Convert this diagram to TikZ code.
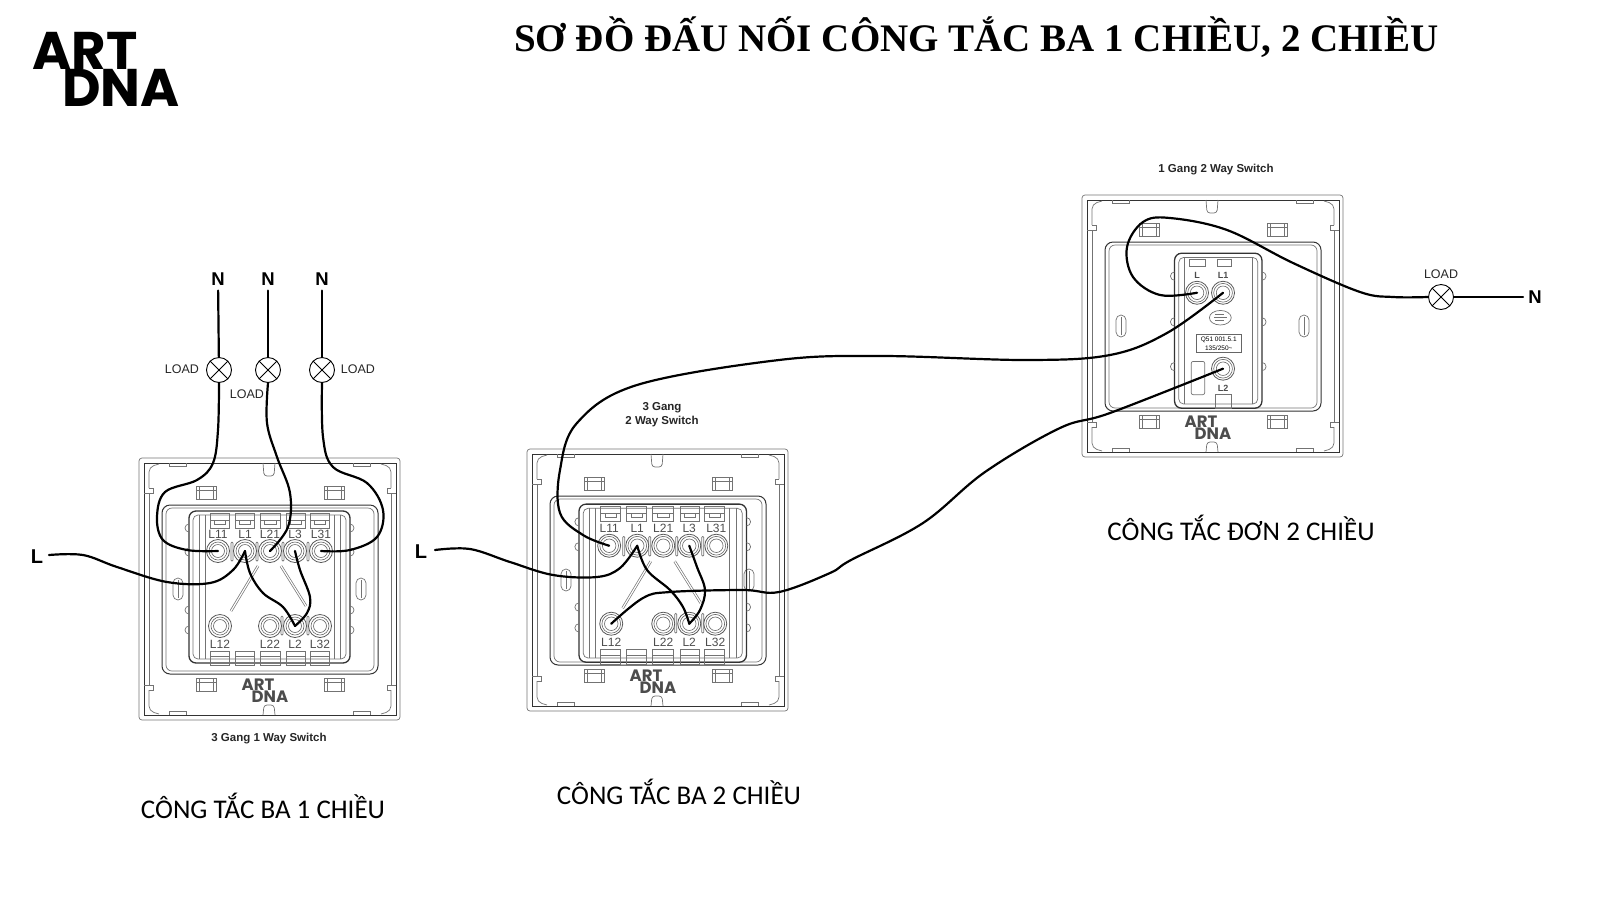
\documentclass[tikz,border=0pt]{standalone}
\usepackage{fontspec}
\setmainfont{Liberation Sans}
\newfontfamily\titlefont{Liberation Serif}
\newfontfamily\capfont{Carlito}
\newfontfamily\logofont{Poppins}
\tikzset{
    plateline/.style={draw=black!55,line width=.7pt,fill=none},
    platedark/.style={draw=black!80,line width=1pt,fill=none},
    wire/.style={draw=black,line width=2.2pt,line cap=round,line join=round},
    terminal/.style={circle,draw=black!65,line width=.8pt,minimum size=23pt,inner sep=0pt,fill=white},
    ringline/.style={draw=black!60,line width=.6pt},
    portname/.style={font=\fontsize{12}{12}\selectfont,text=black!70,inner sep=0pt},
    lamp/.style={circle,draw=black,line width=.9pt,minimum size=25pt,inner sep=0pt,fill=white,
        path picture={\draw[line width=.9pt] (path picture bounding box.north west) -- (path picture bounding box.south east)
            (path picture bounding box.north east) -- (path picture bounding box.south west);}},
    phase/.style={font=\bfseries\fontsize{18.5}{18.5}\selectfont,inner sep=5pt},
    loadname/.style={font=\fontsize{12.5}{12.5}\selectfont,text=black!85,inner sep=0pt},
    typename/.style={font=\bfseries\fontsize{11.5}{14}\selectfont,text=black!85,inner sep=0pt,align=center},
    caption/.style={font=\capfont\fontsize{27}{27}\selectfont,inner sep=0pt},
    biglogo/.style={font=\logofont\bfseries\fontsize{53}{53}\selectfont,inner sep=0pt},
    smalllogo/.style={font=\logofont\bfseries\fontsize{16.5}{16.5}\selectfont,text=black!70,inner sep=0pt},
    faceplate/.pic={
        \draw[plateline,rounded corners=3pt] (0,0) rectangle (261,262);
        \draw[platedark] (5,5) rectangle (257,257);
        \draw[plateline,rounded corners=5pt] (10,30) -- (10,9) -- (20,6) (242,6) -- (252,9) -- (252,30);
        \draw[plateline,rounded corners=5pt] (10,232) -- (10,253) -- (20,256) (242,256) -- (252,253) -- (252,232);
        \draw[plateline] (5,35) -- (14,35) -- (14,30) -- (10,30) (257,35) -- (248,35) -- (248,30) -- (252,30);
        \draw[plateline] (5,227) -- (14,227) -- (14,232) -- (10,232) (257,227) -- (248,227) -- (248,232) -- (252,232);
        \draw[plateline] (10,35) -- (10,227) (252,35) -- (252,227);
        \foreach \xa in {30,214} {
            \draw[plateline] (\xa,5) -- (\xa,8) -- (\xa+17,8) -- (\xa+17,5);
            \draw[plateline] (\xa,257) -- (\xa,253) -- (\xa+17,253) -- (\xa+17,257);
        }
        \draw[plateline,rounded corners=3pt] (124,5) -- (125,18) -- (135,18) -- (136,5);
        \draw[plateline,rounded corners=3pt] (124,257) -- (125,247) -- (135,247) -- (136,257);
        \foreach \xa in {57,185} {
            \foreach \ya in {28,220} {
                \draw[plateline] (\xa,\ya) rectangle (\xa+20,\ya+13);
                \draw[plateline] (\xa,\ya+4) -- (\xa+20,\ya+4) (\xa+3,\ya) -- (\xa+3,\ya+13) (\xa+17,\ya) -- (\xa+17,\ya+13);
            }
        }
        \draw[platedark,rounded corners=8pt] (23,47) rectangle (239,216);
        \draw[plateline,rounded corners=6pt] (27,50) rectangle (235,213);
        \draw[plateline,rounded corners=5pt] (34,120) rectangle (44,142);
        \draw[plateline,rounded corners=5pt] (217,120) rectangle (227,142);
        \draw[plateline] (39,122) -- (39,140) (222,122) -- (222,140);
        \node[smalllogo] (-art) at (119,227) {ART};
        \node[smalllogo] (-dna) at (131,239) {DNA};
    },
    threegang/.pic={
        \pic {faceplate};
        \draw[platedark,line width=1.3pt,rounded corners=7pt] (50,53) rectangle (211,205);
        \draw[plateline,rounded corners=5pt] (54,57) rectangle (207,201);
        \draw[plateline] (60,57) -- (60,201) (66,57) -- (66,201) (195,57) -- (195,201) (201,57) -- (201,201);
        \foreach \xa/\wa in {71/19,96/19,121/20,147/19,171/19} {
            \draw[plateline] (\xa,55) rectangle (\xa+\wa,70);
            \draw[plateline] (\xa,62) -- (\xa+\wa,62) (\xa+4,62) -- (\xa+4,66) -- (\xa+\wa-4,66) -- (\xa+\wa-4,62);
            \draw[plateline] (\xa,193) rectangle (\xa+\wa,207);
            \draw[plateline] (\xa,198) -- (\xa+\wa,198);
        }
        \foreach \ya in {78,102,160,180} {
            \draw[plateline] (50,\ya-4) arc[start angle=90,end angle=270,radius=4];
            \draw[plateline] (211,\ya-4) arc[start angle=90,end angle=-90,radius=4];
        }
        \foreach \xa in {93,118,144,169} {
            \draw[plateline,rounded corners=1pt] (\xa-1,84) rectangle (\xa+1,103);
        }
        \foreach \xa in {143,169} {
            \draw[plateline,rounded corners=1pt] (\xa-1,158) rectangle (\xa+1,177);
        }
        \foreach \n/\xa in {L11/79,L1/106,L21/131,L3/156,L31/182} {
            \node[terminal] (-\n) at (\xa,93) {};
            \draw[ringline] (-\n.center) circle (9) circle (6.5);
            \node[portname] (-\n-name) at (\xa,76) {\n};
        }
        \foreach \n/\xa in {L12/81,L22/131,L2/156,L32/181} {
            \node[terminal] (-\n) at (\xa,168) {};
            \draw[ringline] (-\n.center) circle (9) circle (6.5);
            \node[portname] (-\n-name) at (\xa,186) {\n};
        }
        \draw[plateline,double=white,double distance=1.2pt] (92,153) -- (119,108);
        \draw[plateline,double=white,double distance=1.2pt] (142,108) -- (167,148);
    },
    onegang/.pic={
        \pic {faceplate};
        \draw[platedark,line width=1.3pt,rounded corners=7pt] (89,56) rectangle (173,205);
        \draw[plateline,rounded corners=5pt] (93,60) rectangle (169,201);
        \draw[plateline] (98,60) -- (98,201) (164,60) -- (164,201);
        \draw[plateline] (103,62) rectangle (119,69) (130,62) rectangle (144,69);
        \draw[plateline] (128,192) rectangle (144,205);
        \draw[plateline,rounded corners=2pt] (105,160) rectangle (118,192);
        \foreach \ya in {86,130,173} {
            \draw[plateline] (89,\ya-4) arc[start angle=90,end angle=270,radius=4];
            \draw[plateline] (173,\ya-4) arc[start angle=90,end angle=-90,radius=4];
        }
        \draw[plateline] (133,118) ellipse (10.5 and 7);
        \draw[plateline] (128,115) -- (137,115) (127,118) -- (139,118) (128,121) -- (137,121);
        \node[draw=black!60,line width=.6pt,minimum width=45pt,minimum height=18pt,inner sep=0pt,align=center,
            font=\fontsize{6.5}{8.5}\selectfont] (-rating) at (131.5,143) {Q51 001.5.1\\135/250\textasciitilde};
        \foreach \n/\xa/\ya/\yb in {L/110.6/94/77,L1/135.6/94/77,L2/135.6/167/185.6} {
            \node[terminal] (-\n) at (\xa,\ya) {};
            \draw[ringline] (-\n.center) circle (9) circle (6.5);
            \node[portname,font=\bfseries\fontsize{9}{9}\selectfont] (-\n-name) at (\xa,\yb) {\n};
        }
    },
}
\begin{document}
\begin{tikzpicture}[x=1pt,y=-1pt]
    \useasboundingbox (0,0) rectangle (1600,900);

    \node[biglogo] (logoart) at (85,51) {ART};
    \node[biglogo] (logodna) at (121,88) {DNA};
    \node[font=\titlefont\bfseries\fontsize{39}{39}\selectfont,anchor=base west,inner sep=0pt] (title) at (514,51)
        {SƠ ĐỒ ĐẤU NỐI CÔNG TẮC BA 1 CHIỀU, 2 CHIỀU};

    \pic (swA) at (139,458) {threegang};
    \pic[scale=1.04] (swB) at (527,449) {threegang};
    \pic[scale=1.04] (swC) at (1082,195) {onegang};

    % one way side
    \node[phase] (nA) at (218,279) {N};
    \node[phase] (nB) at (268,279) {N};
    \node[phase] (nC) at (322,279) {N};
    \node[lamp] (lampA) at (219,370) {};
    \node[lamp] (lampB) at (268,370) {};
    \node[lamp] (lampC) at (322,370) {};
    \node[loadname] (loadA) at (182,369) {LOAD};
    \node[loadname] (loadB) at (247,394) {LOAD};
    \node[loadname] (loadC) at (358,369) {LOAD};
    \node[phase,font=\fontsize{20}{20}\selectfont\bfseries,inner sep=0pt] (liveA) at (37,557) {L};
    \coordinate (liveAend) at (49,555);
    \draw[wire] (nA) -- (lampA);
    \draw[wire] (nB) -- (lampB);
    \draw[wire] (nC) -- (lampC);
    \draw[wire] plot[smooth,tension=.6] coordinates {(lampA.south) (218,430) (213,463) (197,480) (165,492) (157,517) (163,540) (187,550) (swA-L11.center)};
    \draw[wire] plot[smooth,tension=.6] coordinates {(lampB.south) (267,423) (277,457) (290,493) (288,527) (swA-L21.center)};
    \draw[wire] plot[smooth,tension=.6] coordinates {(lampC.south) (323,437) (333,467) (367,483) (383,510) (377,537) (350,550) (swA-L31.center)};
    \draw[wire] plot[smooth,tension=.6] coordinates {(liveAend) (83,555) (117,567) (167,582) (210,583) (233,570) (swA-L1.center)};
    \draw[wire] plot[smooth,tension=.6] coordinates {(swA-L1.center) (250,573) (263,593) (283,607) (swA-L2.center)};
    \draw[wire] plot[smooth,tension=.6] coordinates {(swA-L3.center) (300,570) (310,597) (307,613) (swA-L2.center)};
    \node[typename] (typeA) at (269,739) {3 Gang 1 Way Switch};
    \node[caption] (capA) at (263,806) {CÔNG TẮC BA 1 CHIỀU};

    % two way side
    \node[phase,font=\fontsize{20}{20}\selectfont\bfseries,inner sep=0pt] (liveB) at (421,552) {L};
    \coordinate (liveBend) at (435,550);
    \draw[wire] plot[smooth,tension=.6] coordinates {(liveBend) (470,549) (510,562) (553,575) (597,577) (620,568) (swB-L1.center)};
    \draw[wire] plot[smooth,tension=.6] coordinates {(swB-L1.center) (647,570) (670,590) (683,607) (swB-L2.center)};
    \draw[wire] plot[smooth,tension=.6] coordinates {(swB-L3.center) (697,567) (705,590) (700,610) (swB-L2.center)};
    \draw[wire] plot[smooth,tension=.6] coordinates {(swB-L12.center) (643,598) (670,592) (743,590) (779,592) (830,573) (851,560) (923,523) (985,472) (1060,428) (1110,413) (swC-L2.center)};
    \draw[wire] plot[smooth,tension=.6] coordinates {(swB-L11.center) (583,535) (560,513) (560,470) (577,423) (637,385) (779,360) (882,356) (1026,360) (1110,355) (1167,333) (swC-L1.center)};
    \node[typename] (typeB) at (662,415) {3 Gang\\2 Way Switch};
    \node[caption] (capB) at (679,792) {CÔNG TẮC BA 2 CHIỀU};

    % single switch
    \node[phase] (nD) at (1535,297) {N};
    \node[lamp] (lampD) at (1441,297) {};
    \node[loadname] (loadD) at (1441,274) {LOAD};
    \draw[wire] (lampD) -- (nD);
    \draw[wire] plot[smooth,tension=.6] coordinates {(swC-L.center) (1160,295) (1133,277) (1127,247) (1143,222) (1170,218) (1227,230) (1293,263) (1360,292) (1393,297) (lampD.west)};
    \node[typename] (typeC) at (1216,170) {1 Gang 2 Way Switch};
    \node[caption] (capC) at (1241,528) {CÔNG TẮC ĐƠN 2 CHIỀU};
\end{tikzpicture}
\end{document}
